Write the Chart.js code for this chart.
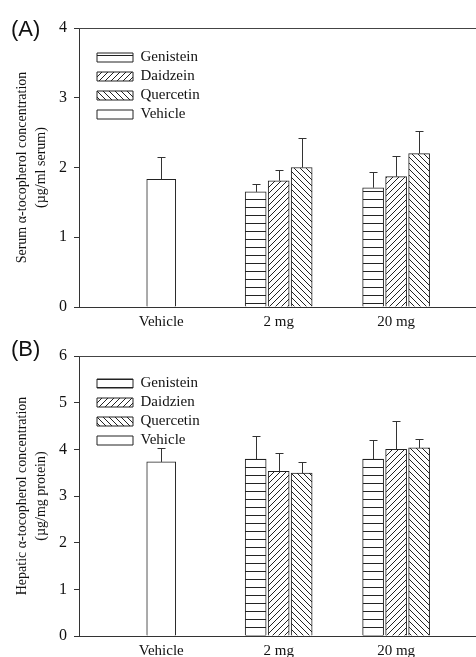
<!DOCTYPE html>
<html>
<head>
<meta charset="utf-8">
<script src="https://cdn.jsdelivr.net/npm/chart.js@4.4.1/dist/chart.umd.min.js"></script>
<style>
  body { margin: 0; background: #fff; }
  canvas { display: block; }
</style>
</head>
<body>
<canvas id="serum" width="476" height="332"></canvas>
<canvas id="hepatic" width="476" height="325"></canvas>
<script>
const doses = ['Vehicle', '2 mg', '20 mg'];

// (A) serum alpha-tocopherol, ug/ml serum (mean, SD)
const serumVehicle = [1.83, null, null];
const serumVehicleErr = [0.32, null, null];
const serumGenistein = [null, 1.65, 1.71];
const serumGenisteinErr = [null, 0.12, 0.23];
const serumDaidzein = [null, 1.81, 1.87];
const serumDaidzeinErr = [null, 0.16, 0.30];
const serumQuercetin = [null, 2.00, 2.20];
const serumQuercetinErr = [null, 0.43, 0.33];

// (B) hepatic alpha-tocopherol, ug/mg protein
const liverVehicle = [3.73, null, null];
const liverVehicleErr = [0.30, null, null];
const liverGenistein = [null, 3.79, 3.79];
const liverGenisteinErr = [null, 0.50, 0.41];
const liverDaidzein = [null, 3.53, 4.00];
const liverDaidzeinErr = [null, 0.39, 0.60];
const liverQuercetin = [null, 3.49, 4.03];
const liverQuercetinErr = [null, 0.24, 0.19];

const serif = 'Liberation Serif';
const ink = '#222';

function hatch(kind) {
  const s = kind === 'h' ? 8 : 6;
  const c = document.createElement('canvas');
  c.width = s; c.height = s;
  const g = c.getContext('2d');
  g.fillStyle = '#fff';
  g.fillRect(0, 0, s, s);
  g.strokeStyle = ink;
  g.lineWidth = 1;
  g.beginPath();
  if (kind === 'h') {
    g.moveTo(0, 7.5); g.lineTo(s, 7.5);
  } else if (kind === 'f') {
    g.moveTo(0, s); g.lineTo(s, 0);
    g.moveTo(-1, 1); g.lineTo(1, -1);
    g.moveTo(s - 1, s + 1); g.lineTo(s + 1, s - 1);
  } else {
    g.moveTo(0, 0); g.lineTo(s, s);
    g.moveTo(s - 1, -1); g.lineTo(s + 1, 1);
    g.moveTo(-1, s - 1); g.lineTo(1, s + 1);
  }
  g.stroke();
  return g.createPattern(c, 'repeat');
}

function points(vals, errs) {
  return vals.map((v, i) => ({ x: i + 1, y: v, err: errs[i] })).filter(p => p.y !== null);
}

// upward error bars with a cap
const errorBars = {
  id: 'errorBars',
  afterDatasetsDraw(chart) {
    const ctx = chart.ctx;
    const yScale = chart.scales.y;
    ctx.save();
    ctx.strokeStyle = '#333';
    ctx.lineWidth = 1;
    chart.data.datasets.forEach((ds, i) => {
      chart.getDatasetMeta(i).data.forEach((bar, j) => {
        const p = ds.data[j];
        if (p.err == null) return;
        const top = Math.round(yScale.getPixelForValue(p.y + p.err)) + 0.5;
        const x = Math.round(bar.x) + 0.5;
        ctx.beginPath();
        ctx.moveTo(x, bar.y);
        ctx.lineTo(x, top);
        ctx.moveTo(x - 4, top);
        ctx.lineTo(x + 4, top);
        ctx.stroke();
      });
    });
    ctx.restore();
  }
};

// panel letter, top frame line, legend placement
const panel = {
  id: 'panel',
  afterLayout(chart, args, opts) {
    chart.legend.left = opts.legendX;
    chart.legend.top = opts.legendY;
  },
  afterDraw(chart, args, opts) {
    const { ctx, chartArea } = chart;
    ctx.save();
    ctx.strokeStyle = '#444';
    ctx.lineWidth = 1;
    ctx.beginPath();
    ctx.moveTo(chartArea.left, chartArea.top + 0.5);
    ctx.lineTo(chartArea.right, chartArea.top + 0.5);
    ctx.stroke();
    ctx.fillStyle = '#111';
    ctx.font = '22px "Liberation Sans"';
    ctx.textBaseline = 'middle';
    ctx.fillText(opts.label, 11, opts.labelY);
    ctx.restore();
  }
};

function makeChart(id, label, yMax, place, title, names, sets) {
  const fills = [hatch('h'), hatch('f'), hatch('b')];
  const datasets = sets.slice(0, 3).map((s, k) => ({
    label: names[k],
    data: points(s[0], s[1]),
    backgroundColor: fills[k],
    borderColor: ink,
    borderWidth: 1,
    barThickness: 23,
    maxBarThickness: 21
  }));
  datasets.push({
    label: names[3],
    data: points(sets[3][0], sets[3][1]),
    backgroundColor: '#fff',
    borderColor: ink,
    borderWidth: 1,
    grouped: false,
    barThickness: 29,
    maxBarThickness: 29
  });

  return new Chart(document.getElementById(id), {
    type: 'bar',
    data: { datasets },
    plugins: [errorBars, panel],
    options: {
      responsive: false,
      animation: false,
      devicePixelRatio: 1,
      layout: { padding: { top: place.top, right: 0, bottom: 0, left: 0 } },
      plugins: {
        tooltip: { enabled: false },
        panel: { label, labelY: place.labelY, legendX: 93, legendY: place.legendY },
        legend: {
          position: 'chartArea',
          align: 'start',
          labels: {
            boxWidth: 36,
            boxHeight: 9,
            padding: 4,
            color: '#111',
            font: { family: serif, size: 15 }
          }
        }
      },
      scales: {
        x: {
          type: 'linear',
          min: 0.3,
          max: 3.68,
          offset: false,
          grid: { display: false, drawTicks: false, offset: false },
          border: { display: true, color: '#333' },
          afterBuildTicks: s => { s.ticks = doses.map((d, i) => ({ value: i + 1 })); },
          afterFit: s => { s.height = place.axisH; },
          ticks: {
            padding: 6,
            color: '#111',
            font: { family: serif, size: 15 },
            callback: v => doses[v - 1]
          }
        },
        y: {
          min: 0,
          max: yMax,
          afterFit: s => { s.width = 79; },
          grid: { display: true, drawOnChartArea: false, drawTicks: true, tickLength: 5, color: '#333' },
          border: { display: true, color: '#333' },
          ticks: {
            stepSize: 1,
            padding: 7,
            color: '#111',
            font: { family: serif, size: 16 }
          },
          title: {
            display: true,
            text: title,
            color: '#111',
            padding: { top: 13, bottom: 0 },
            font: { family: serif, size: 14, lineHeight: 1.35 }
          }
        }
      }
    }
  });
}

makeChart('serum', '(A)', 4, { top: 28, axisH: 25, labelY: 30, legendY: 46 },
  ['Serum \u03b1-tocopherol concentration', '(\u00b5g/ml serum)'],
  ['Genistein', 'Daidzein', 'Quercetin', 'Vehicle'],
  [[serumGenistein, serumGenisteinErr], [serumDaidzein, serumDaidzeinErr],
   [serumQuercetin, serumQuercetinErr], [serumVehicle, serumVehicleErr]]);

makeChart('hepatic', '(B)', 6, { top: 24, axisH: 21, labelY: 18, legendY: 40 },
  ['Hepatic \u03b1-tocopherol concentration', '(\u00b5g/mg protein)'],
  ['Genistein', 'Daidzien', 'Quercetin', 'Vehicle'],
  [[liverGenistein, liverGenisteinErr], [liverDaidzein, liverDaidzeinErr],
   [liverQuercetin, liverQuercetinErr], [liverVehicle, liverVehicleErr]]);
</script>
</body>
</html>
